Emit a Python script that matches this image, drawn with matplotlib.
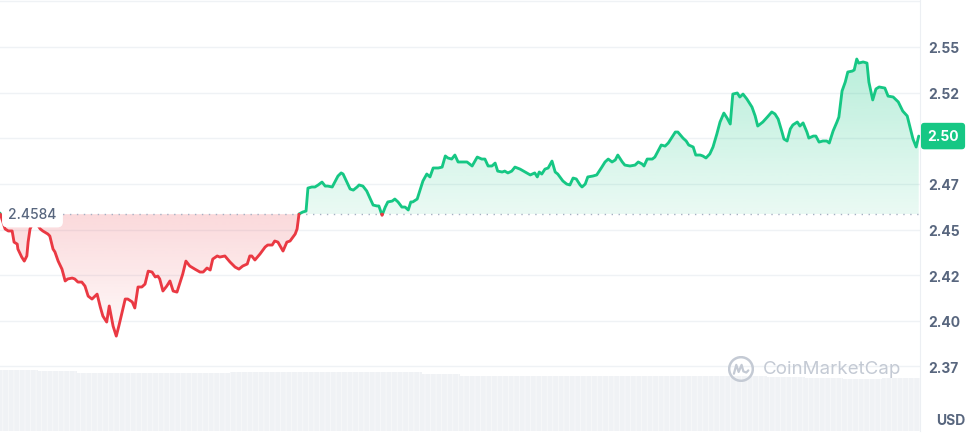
import matplotlib
matplotlib.use("Agg")
import matplotlib.pyplot as plt
import matplotlib.transforms as mtransforms
from matplotlib.colors import to_rgb
from matplotlib.path import Path
from matplotlib.patches import PathPatch, Circle
import numpy as np

plt.rcParams['font.family'] = ['Inter', 'DejaVu Sans']
plt.rcParams['hatch.linewidth'] = 0.6

# minutes since start of the 24h window
t_min = [0, 8, 13, 19, 22, 27, 28, 34, 38, 42, 44, 47, 53, 58, 63, 67, 75, 78, 83, 86,
         91, 97, 102, 106, 113, 117, 122, 128, 133, 138, 144, 152, 157, 161, 167, 171, 177, 182, 186, 196,
         200, 207, 211, 216, 222, 227, 232, 238, 243, 247, 250, 255, 261, 266, 271, 277, 282, 286, 291, 297,
         305, 313, 318, 324, 329, 333, 340, 344, 352, 360, 368, 374, 380, 387, 391, 394, 399, 407, 415, 419,
         426, 430, 435, 443, 449, 454, 462, 465, 468, 474, 479, 482, 488, 493, 498, 504, 509, 513, 520, 524,
         529, 534, 537, 543, 548, 553, 559, 562, 568, 574, 579, 584, 590, 593, 598, 603, 607, 614, 618, 623,
         629, 634, 639, 643, 646, 653, 657, 662, 668, 673, 678, 686, 692, 697, 701, 707, 712, 717, 725, 731,
         739, 747, 754, 759, 764, 770, 775, 779, 786, 790, 795, 801, 806, 814, 822, 830, 837, 841, 844, 848,
         853, 858, 864, 869, 873, 881, 887, 892, 897, 902, 908, 911, 916, 920, 928, 934, 942, 947, 952, 958,
         963, 967, 974, 978, 986, 994, 999, 1005, 1008, 1013, 1021, 1025, 1030, 1035, 1041, 1046, 1052, 1057, 1061, 1069,
         1074, 1078, 1085, 1089, 1096, 1100, 1105, 1111, 1116, 1122, 1127, 1133, 1138, 1143, 1147, 1154, 1158, 1163, 1169, 1177,
         1182, 1186, 1194, 1201, 1208, 1213, 1218, 1224, 1227, 1232, 1237, 1241, 1248, 1252, 1257, 1263, 1266, 1273, 1277, 1282,
         1288, 1294, 1298, 1304, 1310, 1313, 1318, 1323, 1327, 1334, 1337, 1341, 1344, 1351, 1357, 1360, 1366, 1371, 1376, 1385,
         1390, 1398, 1406, 1413, 1420, 1424, 1429, 1434, 1438]

price = [2.4590, 2.4503, 2.4492, 2.4492, 2.4431, 2.4420, 2.4393, 2.4349, 2.4327, 2.4355, 2.4431, 2.4503, 2.4546, 2.4530, 2.4503, 2.4492, 2.4475, 2.4464, 2.4393, 2.4377,
         2.4327, 2.4283, 2.4218, 2.4229, 2.4234, 2.4229, 2.4212, 2.4212, 2.4190, 2.4135, 2.4119, 2.4146, 2.4075, 2.4026, 2.3993, 2.4081, 2.3971, 2.3916, 2.3971, 2.4119,
         2.4119, 2.4103, 2.4070, 2.4185, 2.4185, 2.4201, 2.4272, 2.4267, 2.4240, 2.4245, 2.4229, 2.4163, 2.4190, 2.4218, 2.4163, 2.4157, 2.4212, 2.4256, 2.4327, 2.4300,
         2.4283, 2.4267, 2.4267, 2.4289, 2.4278, 2.4338, 2.4355, 2.4349, 2.4355, 2.4322, 2.4294, 2.4283, 2.4300, 2.4311, 2.4355, 2.4355, 2.4333, 2.4366, 2.4404, 2.4415,
         2.4415, 2.4437, 2.4431, 2.4382, 2.4431, 2.4437, 2.4475, 2.4503, 2.4585, 2.4596, 2.4601, 2.4727, 2.4733, 2.4733, 2.4744, 2.4760, 2.4738, 2.4738, 2.4733, 2.4760,
         2.4793, 2.4810, 2.4804, 2.4760, 2.4722, 2.4716, 2.4733, 2.4744, 2.4738, 2.4711, 2.4673, 2.4634, 2.4629, 2.4629, 2.4578, 2.4623, 2.4651, 2.4656, 2.4667, 2.4651,
         2.4623, 2.4623, 2.4607, 2.4651, 2.4651, 2.4667, 2.4711, 2.4766, 2.4804, 2.4788, 2.4837, 2.4837, 2.4842, 2.4903, 2.4892, 2.4886, 2.4908, 2.4870, 2.4870, 2.4870,
         2.4848, 2.4897, 2.4886, 2.4886, 2.4848, 2.4848, 2.4864, 2.4820, 2.4815, 2.4820, 2.4810, 2.4820, 2.4842, 2.4831, 2.4815, 2.4799, 2.4810, 2.4788, 2.4815, 2.4804,
         2.4831, 2.4837, 2.4875, 2.4815, 2.4804, 2.4766, 2.4749, 2.4744, 2.4782, 2.4777, 2.4744, 2.4733, 2.4749, 2.4788, 2.4793, 2.4799, 2.4842, 2.4870, 2.4886, 2.4870,
         2.4881, 2.4908, 2.4870, 2.4853, 2.4848, 2.4853, 2.4870, 2.4859, 2.4848, 2.4886, 2.4886, 2.4897, 2.4930, 2.4963, 2.4957, 2.4974, 2.5007, 2.5034, 2.5034, 2.5001,
         2.4985, 2.4963, 2.4952, 2.4908, 2.4908, 2.4903, 2.4892, 2.4914, 2.4952, 2.5023, 2.5089, 2.5138, 2.5111, 2.5078, 2.5242, 2.5248, 2.5226, 2.5242, 2.5215, 2.5171,
         2.5122, 2.5067, 2.5089, 2.5116, 2.5144, 2.5133, 2.5105, 2.5034, 2.4996, 2.4985, 2.5051, 2.5073, 2.5089, 2.5067, 2.5084, 2.5034, 2.5001, 2.5012, 2.5012, 2.4979,
         2.4985, 2.4985, 2.4974, 2.5040, 2.5089, 2.5116, 2.5259, 2.5308, 2.5363, 2.5368, 2.5374, 2.5434, 2.5412, 2.5418, 2.5412, 2.5308, 2.5210, 2.5270, 2.5281, 2.5275,
         2.5231, 2.5226, 2.5199, 2.5149, 2.5122, 2.5067, 2.4996, 2.4952, 2.5012]

open_price = 2.4584
open_label = "2.4584"
last_label = "2.50"

grid_levels = [2.375, 2.400, 2.425, 2.450, 2.475, 2.500, 2.525, 2.550, 2.575]
tick_labels = ["2.37", "2.40", "2.42", "2.45", "2.47", "", "2.52", "2.55", ""]

# hourly volume, millions USD
vol_hour = list(range(24))
volume_m = [305, 300, 290, 290, 290, 290, 295, 295, 295, 295, 295, 285,
            275, 275, 275, 275, 275, 275, 275, 275, 270, 265, 260, 265]

GREEN = '#16c784'
RED = '#ea3943'
GRAY = '#58667e'
GRID = '#eff2f5'

fig = plt.figure(figsize=(9.76, 4.35), dpi=100)
rect = [0, 3 / 435, 920 / 976, 432 / 435]
vax = fig.add_axes(rect)
ax = fig.add_axes(rect)
ax.patch.set_alpha(0)

# volume in the background
vax.bar([h * 60 for h in vol_hour], volume_m, width=60, align='edge',
        color='#f0f2f5', edgecolor='#f8f9fa', linewidth=0, hatch='|||')
vax.set_xlim(0, 1440)
vax.set_ylim(0, 2160)
vax.axis('off')

t = np.array(t_min, float)
p = np.array(price)

# add crossing points so the colour switches right on the open line
xs, ys = [t[0]], [p[0]]
for i in range(1, len(t)):
    a, b = p[i - 1] - open_price, p[i] - open_price
    if a * b < 0:
        f = a / (a - b)
        xs.append(t[i - 1] + f * (t[i] - t[i - 1]))
        ys.append(open_price)
    xs.append(t[i])
    ys.append(p[i])
xs = np.array(xs)
ys = np.array(ys)


def gradient_fill(ax, x, y, base, color, where, y_lo, y_hi, a_lo, a_hi):
    coll = ax.fill_between(x, y, base, where=where, interpolate=True,
                           facecolor='none', edgecolor='none')
    clip = PathPatch(Path.make_compound_path(*coll.get_paths()),
                     transform=ax.transData, facecolor='none', edgecolor='none')
    img = np.zeros((256, 1, 4))
    img[..., :3] = to_rgb(color)
    img[:, 0, 3] = np.linspace(a_lo, a_hi, 256)
    im = ax.imshow(img, extent=[x.min(), x.max(), y_lo, y_hi], origin='lower',
                   aspect='auto', interpolation='bilinear', zorder=1)
    im.set_clip_path(clip)


gradient_fill(ax, xs, ys, open_price, GREEN, ys >= open_price,
              open_price, ys.max(), 0.09, 0.30)
gradient_fill(ax, xs, ys, open_price, RED, ys <= open_price,
              ys.min(), open_price, 0.03, 0.19)

green = np.where(ys >= open_price, ys, np.nan)
red = np.where(ys <= open_price, ys, np.nan)
ax.plot(xs, green, color=GREEN, lw=2.05, zorder=3, solid_joinstyle='round', solid_capstyle='round')
ax.plot(xs, red, color=RED, lw=2.05, zorder=3, solid_joinstyle='round', solid_capstyle='round')

ax.axhline(open_price, color='#a6b0c3', lw=1, ls=(0, (1, 4)), zorder=2)

ax.set_xlim(0, 1440)
ax.set_ylim(2.3396, 2.5763)
ax.set_xticks([])
ax.set_yticks(grid_levels, tick_labels)
ax.yaxis.tick_right()
ax.tick_params(axis='y', length=0, pad=5.8, labelsize=10, labelcolor=GRAY)
for lbl in ax.get_yticklabels():
    lbl.set_fontweight('bold')
ax.grid(axis='y', color=GRID, lw=1, zorder=0)
ax.set_axisbelow(True)
for side in ['top', 'left', 'bottom']:
    ax.spines[side].set_visible(False)
ax.spines['right'].set_color('#eceff3')

blend = mtransforms.blended_transform_factory(ax.transAxes, ax.transData)
ax.text(0.009, open_price, open_label, transform=blend, ha='left', va='center',
        fontsize=10, color=GRAY, fontweight=500, zorder=5,
        bbox=dict(boxstyle='round,pad=0.45,rounding_size=0.4', fc='white', ec='none'))

ax.annotate(last_label, xy=(1, price[-1]), xycoords=blend, xytext=(5.2, 0),
            textcoords='offset points', ha='left', va='center', fontsize=10,
            fontweight='bold', color='white', annotation_clip=False, zorder=6,
            bbox=dict(boxstyle='round,pad=0.45,rounding_size=0.25', fc=GREEN, ec='none'))

fig.text(951 / 976, 1 - 421 / 435, "USD", ha='center', va='center',
         fontsize=10, fontweight='bold', color=GRAY)

# watermark
fig.text(763 / 976, 1 - 370 / 435, "CoinMarketCap", ha='left', va='center',
         fontsize=13.5, color='#c4cad4', zorder=4)
lax = fig.add_axes([728 / 976, 1 - 383 / 435, 26 / 976, 26 / 435])
lax.set_xlim(-1.1, 1.1)
lax.set_ylim(-1.1, 1.1)
lax.axis('off')
lax.add_patch(Circle((0, 0), 1.0, fill=False, ec='#c4cad4', lw=1.8))
lax.plot([-0.6, -0.4, -0.2, 0.05, 0.2, 0.45, 0.62], [-0.4, 0.35, -0.25, 0.35, -0.2, -0.3, -0.12],
         color='#c4cad4', lw=1.6, solid_joinstyle='round', solid_capstyle='round')

fig.savefig('out.png', dpi=100)
